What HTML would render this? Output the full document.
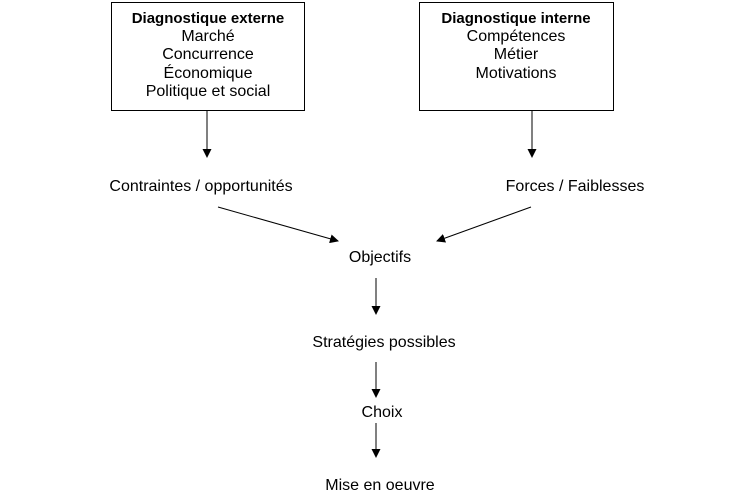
<!DOCTYPE html>
<html><head><meta charset="utf-8"><style>body{margin:0;background:#fff}svg{display:block}</style></head><body>
<svg width="750" height="492" viewBox="0 0 750 492" xmlns="http://www.w3.org/2000/svg" font-family="Liberation Sans, Arial, sans-serif" font-size="16" fill="#000">
<defs><marker id="a" markerWidth="9" markerHeight="9" refX="8" refY="4.5" orient="auto" markerUnits="userSpaceOnUse"><path d="M0,0 L9,4.5 L0,9 z" fill="#000"/></marker></defs>
<rect x="111.5" y="2.5" width="193" height="108" fill="none" stroke="#000" stroke-width="1"/>
<rect x="419.5" y="2.5" width="194" height="108" fill="none" stroke="#000" stroke-width="1"/>
<g text-anchor="middle">
<text x="208" y="23" font-weight="bold" font-size="15">Diagnostique externe</text>
<text x="208" y="41">Marché</text>
<text x="208" y="59">Concurrence</text>
<text x="208" y="78">Économique</text>
<text x="208" y="96">Politique et social</text>
<text x="516" y="23" font-weight="bold" font-size="15">Diagnostique interne</text>
<text x="516" y="41">Compétences</text>
<text x="516" y="59">Métier</text>
<text x="516" y="78">Motivations</text>
<text x="201" y="191">Contraintes / opportunités</text>
<text x="575" y="191">Forces / Faiblesses</text>
<text x="380" y="262">Objectifs</text>
<text x="384" y="347">Stratégies possibles</text>
<text x="382" y="417">Choix</text>
<text x="380" y="490">Mise en oeuvre</text>
</g>
<g stroke="#000" stroke-width="1" marker-end="url(#a)">
<line x1="207" y1="111" x2="207" y2="157"/>
<line x1="532" y1="111" x2="532" y2="157"/>
<line x1="218" y1="207" x2="338" y2="241"/>
<line x1="531" y1="207" x2="437" y2="241"/>
<line x1="376" y1="278" x2="376" y2="314"/>
<line x1="376" y1="362" x2="376" y2="397"/>
<line x1="376" y1="423" x2="376" y2="457"/>
</g>
</svg>
</body></html>
